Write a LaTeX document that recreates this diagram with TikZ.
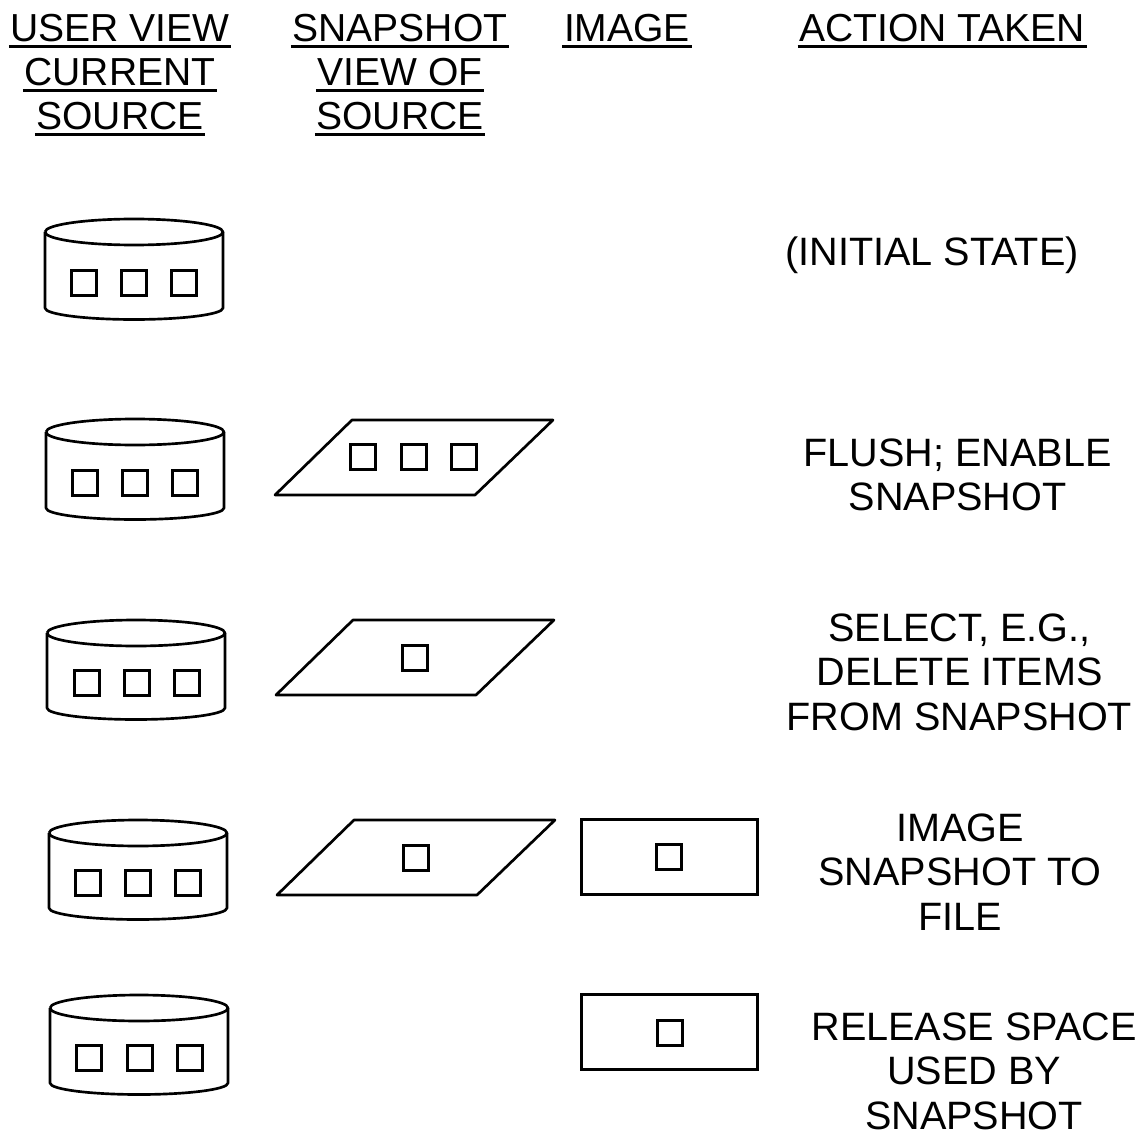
\documentclass[tikz,border=0pt]{standalone}
\usepackage{fontspec}
\setmainfont{Liberation Sans}
\tikzset{
  x=0.75pt,y=-0.75pt,
  shape line/.style={draw=black,line width=2pt,fill=none,line join=round},
  lab/.style={font=\fontsize{29.7pt}{33.4pt}\selectfont,align=center,anchor=center,inner sep=0pt,text=black},
  headlab/.style={font=\fontsize{29.3pt}{33.4pt}\selectfont,anchor=base,inner sep=0pt,text=black},
  sq/.style={draw=black,line width=2pt,minimum size=19pt,inner sep=0pt,fill=none},
  box/.style={draw=black,line width=2pt,minimum width=132pt,minimum height=56.5pt,inner sep=0pt},
}
\newcommand{\hd}[1]{\setbox0\hbox{#1}\leavevmode\rlap{\kern-1.2pt\rule[-4.4pt]{\dimexpr\wd0+2.4pt\relax}{2.2pt}}\box0 }
% cylinder: left x, top-ellipse centre y, bottom corner y
\newcommand{\cyl}[3]{%
  \draw[shape line] (#1,#2) arc[start angle=180,end angle=-180,x radius=89,y radius=13];
  \draw[shape line] (#1,#2) -- (#1,#3) arc[start angle=180,end angle=0,x radius=89,y radius=11.5] -- (#1+178,#2);
}
\newcommand{\para}[2]{%
  \draw[shape line] (#1,#2+75) -- (#1+77,#2) -- (#1+278,#2) -- (#1+200,#2+75) -- cycle;
}
\begin{document}
\begin{tikzpicture}
\useasboundingbox (0,0) rectangle (1145,1134);
% Headers
\node[headlab] (h1a) at (120,42) {\hd{USER VIEW}};
\node[headlab] (h1b) at (120,86) {\hd{CURRENT}};
\node[headlab] (h1c) at (120,130) {\hd{SOURCE}};
\node[headlab] (h2a) at (400,42) {\hd{SNAPSHOT}};
\node[headlab] (h2b) at (400,86) {\hd{VIEW OF}};
\node[headlab] (h2c) at (400,130) {\hd{SOURCE}};
\node[headlab] (h3) at (627,42) {\hd{IMAGE}};
\node[headlab] (h4) at (942,42) {\hd{ACTION TAKEN}};
% Row 1
\cyl{45}{232}{308}
\node[sq] (s11) at (84,283) {};
\node[sq] (s12) at (134,283) {};
\node[sq] (s13) at (184,283) {};
\node[lab] (a1) at (932,255) {(INITIAL STATE)};
% Row 2
\cyl{46}{432}{508}
\node[sq] (s21) at (85,483) {};
\node[sq] (s22) at (135,483) {};
\node[sq] (s23) at (185,483) {};
\para{275}{420}
\node[sq] (p21) at (363,457) {};
\node[sq] (p22) at (414,457) {};
\node[sq] (p23) at (464,457) {};
\node[lab] (a2) at (957.5,475) {FLUSH; ENABLE\\SNAPSHOT};
% Row 3
\cyl{47}{633}{708}
\node[sq] (s31) at (87,683) {};
\node[sq] (s32) at (137,683) {};
\node[sq] (s33) at (187,683) {};
\para{276}{620}
\node[sq] (p31) at (415,658) {};
\node[lab] (a3) at (959.5,672) {SELECT, E.G.,\\DELETE ITEMS\\FROM SNAPSHOT};
% Row 4
\cyl{49}{833}{908}
\node[sq] (s41) at (88,883) {};
\node[sq] (s42) at (138,883) {};
\node[sq] (s43) at (188,883) {};
\para{277}{820}
\node[sq] (p41) at (416,858) {};
\node[box] (r4) at (669.5,857) {};
\node[sq] (i41) at (669,857) {};
\node[lab] (a4) at (960,872) {IMAGE\\SNAPSHOT TO\\FILE};
% Row 5
\cyl{50}{1008}{1083}
\node[sq] (s51) at (89,1058) {};
\node[sq] (s52) at (140,1058) {};
\node[sq] (s53) at (190,1058) {};
\node[box] (r5) at (669.5,1032) {};
\node[sq] (i51) at (670,1033) {};
\node[lab] (a5) at (974,1071) {RELEASE SPACE\\USED BY\\SNAPSHOT};
\end{tikzpicture}
\end{document}
